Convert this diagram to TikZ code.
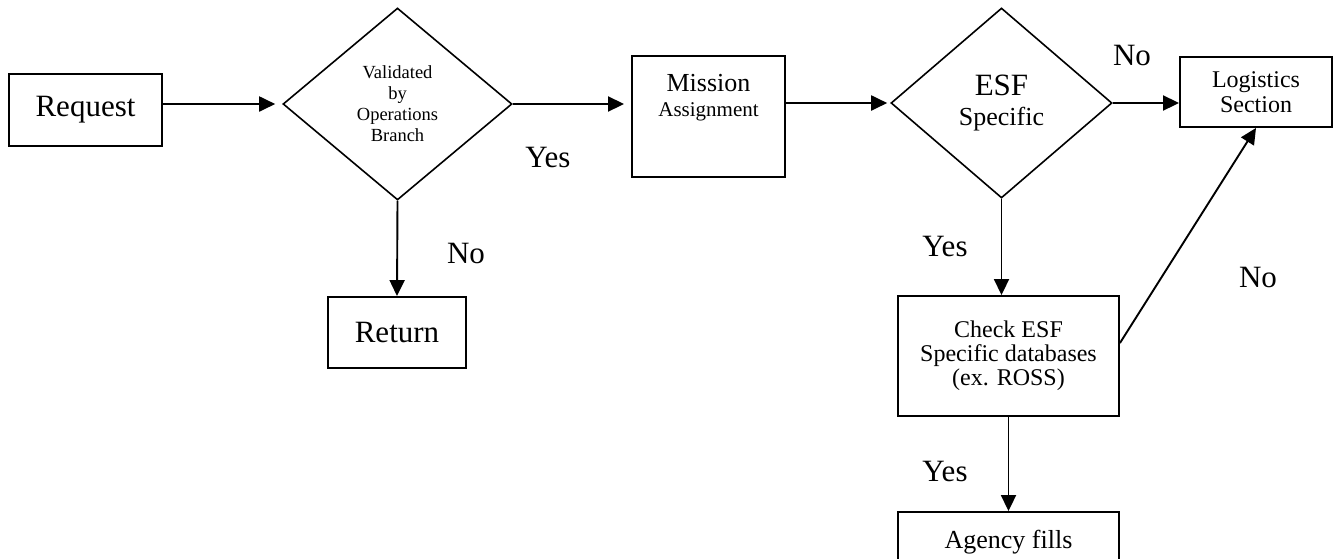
\documentclass[tikz,border=0pt]{standalone}
\usepackage{fontspec}
\setmainfont{Liberation Serif}
\usetikzlibrary{shapes.geometric,arrows.meta}

\begin{document}
\begin{tikzpicture}[x=1pt,y=-1pt,
  box/.style={draw, line width=1.9pt, inner sep=0pt, align=center},
  decision/.style={draw, diamond, line width=1.6pt, inner sep=0pt, align=center},
  flow/.style={-{Triangle[length=16pt,width=15pt]}, line width=1.9pt},
  answer/.style={font=\fontsize{31}{34}\selectfont}]
  % plocha obrazku (pixely, y dolu)
  \useasboundingbox (0,0) rectangle (1333,558);
  \clip (0,0) rectangle (1333,558);

  % --- LEVA CAST ---
  \node[box, minimum width=153pt, minimum height=72pt, font=\fontsize{31}{34}\selectfont] (request) at (85.5,110) {Request};
  \node[decision, minimum width=229pt, minimum height=192pt, font=\fontsize{18.5}{21}\selectfont] (valid) at (397.5,104) {Validated\\by\\Operations\\Branch};
  \node[box, minimum width=138pt, minimum height=71pt, font=\fontsize{31}{34}\selectfont] (return) at (397,332.5) {Return};

  % Mission -- text je nahore v boxu
  \node[box, minimum width=153pt, minimum height=121pt] (mission) at (708.5,116.5) {};
  \node[align=center, inner sep=0pt, font=\fontsize{21}{25}\selectfont] (missiontext) at (708.5,98) {{\fontsize{26}{25}\selectfont Mission}\\Assignment};

  % --- PRAVA CAST ---
  \node[decision, minimum width=221pt, minimum height=190pt, font=\fontsize{26}{30}\selectfont] (esf) at (1001.5,103) {{\fontsize{31}{30}\selectfont ESF}\\Specific};
  \node[box, minimum width=152pt, minimum height=70pt, font=\fontsize{24}{25}\selectfont] (logistics) at (1256,92) {Logistics\\Section};
  \node[box, minimum width=221pt, minimum height=120pt, font=\fontsize{24}{24}\selectfont] (check) at (1008.5,356) {Check ESF\\Specific databases\\(ex. ROSS)};

  % Agency -- box pokracuje pod okraj
  \node[box, minimum width=221pt, minimum height=88pt] (agency) at (1008.5,556) {};
  \node[inner sep=0pt, font=\fontsize{26}{30}\selectfont] (agencytext) at (1008.5,542) {Agency fills};

  % --- SPOJNICE ---
  \draw[flow, shorten >=7pt] (request.east |- valid.west) -- (valid.west);
  \draw[flow, shorten >=7pt] (valid.east) -- (valid.east -| mission.west);
  \draw[flow, shorten >=3pt] (mission.east |- esf.west) -- (esf.west);
  \draw[flow] (esf.east) -- (esf.east -| logistics.west);
  \draw[flow] (valid.south) -- (return.north);
  \draw[flow] (esf.south) -- (esf.south |- check.north);
  \draw[flow] ([yshift=13pt]check.east) -- (logistics.south); % No -> Logistics
  \draw[flow] (check.south) -- (agency.north);

  % --- POPISKY ---
  \node[answer] (yes1) at (548,157) {Yes};
  \node[answer] (no1) at (466,253) {No};
  \node[answer] (no2) at (1132,55) {No};
  \node[answer] (yes2) at (945,246) {Yes};
  \node[answer] (no3) at (1258,277) {No};
  \node[answer] (yes3) at (945,471) {Yes};
\end{tikzpicture}
\end{document}
